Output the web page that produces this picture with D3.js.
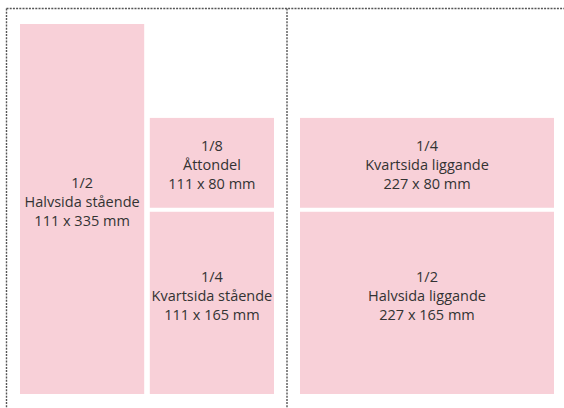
<!DOCTYPE html>
<html>
<head>
<meta charset="utf-8">
<script src="https://cdn.jsdelivr.net/npm/d3@7"></script>
<style>
  body { margin: 0; background: #fff; }
  .label { font-family: "Open Sans", "Liberation Sans", sans-serif; font-size: 14.5px; fill: #333; }
</style>
</head>
<body>
<div id="chart"></div>
<script>
// ad sizes (mm) with their labels
var fractions = ["1/2", "1/8", "1/4", "1/4", "1/2"];
var names = ["Halvsida stående", "Åttondel", "Kvartsida stående", "Kvartsida liggande", "Halvsida liggande"];
var widthsMm = [111, 111, 111, 227, 227];
var heightsMm = [335, 80, 165, 80, 165];

var pageWidthMm = 227;
var pageHeightMm = 335;

var svgWidth = 564;
var svgHeight = 408;

// which page / where in the page each ad sits
// page: 0 = left spread page, 1 = right; align: left or right edge; stack: 0 = bottom, 1 = above bottom
var layout = [
  { page: 0, align: "left", stack: 0 },
  { page: 0, align: "right", stack: 1 },
  { page: 0, align: "right", stack: 0 },
  { page: 1, align: "left", stack: 1 },
  { page: 1, align: "left", stack: 0 }
];

var gap = 4;

var svg = d3.select("#chart")
  .append("svg")
  .attr("width", svgWidth)
  .attr("height", svgHeight);

var xPages = [
  d3.scaleLinear().domain([0, pageWidthMm]).range([20, 274]),
  d3.scaleLinear().domain([0, pageWidthMm]).range([300, 554])
];
// measured from the bottom of the page
var yScale = d3.scaleLinear().domain([0, pageHeightMm]).range([394, 24]);
var kx = xPages[0](1) - xPages[0](0);
var ky = yScale(0) - yScale(1);

var ads = fractions.map(function(f, i) {
  var l = layout[i];
  var x = xPages[l.page];
  var w = widthsMm[i] * kx;
  var h = heightsMm[i] * ky;
  var x0 = l.align === "left" ? x(0) : x(pageWidthMm) - w;
  var bottom = yScale(0);
  if (l.stack === 1) {
    // sits on top of the ad below it on same page/align
    var below = layout.findIndex(function(o) { return o.page === l.page && o.align === l.align && o.stack === 0; });
    bottom = yScale(heightsMm[below]) - gap;
    h += 1.5;
  }
  return { fraction: f, name: names[i], dims: widthsMm[i] + " x " + heightsMm[i] + " mm",
           x: x0, y: bottom - h, w: w, h: h };
});

// dotted page frame
var frame = svg.append("g")
  .attr("fill", "none")
  .attr("stroke", "#555")
  .attr("stroke-width", 1.4)
  .attr("stroke-dasharray", "2,1.2");
var frameLeft = xPages[0](0) - 13.5;
var frameTop = yScale(pageHeightMm) - 15.5;
var frameMid = (xPages[0](pageWidthMm) + xPages[1](0)) / 2;
frame.append("line").attr("x1", frameLeft).attr("x2", svgWidth).attr("y1", frameTop).attr("y2", frameTop);
frame.append("line").attr("x1", frameLeft).attr("x2", frameLeft).attr("y1", frameTop).attr("y2", svgHeight);
frame.append("line").attr("x1", frameMid).attr("x2", frameMid).attr("y1", frameTop).attr("y2", svgHeight);

svg.selectAll(".ad")
  .data(ads)
  .enter()
  .append("rect")
  .classed("ad", true)
  .attr("x", d => d.x)
  .attr("y", d => d.y)
  .attr("width", d => d.w)
  .attr("height", d => d.h)
  .attr("fill", "#f8d0d8");

var labels = svg.selectAll(".label")
  .data(ads)
  .enter()
  .append("text")
  .classed("label", true)
  .attr("text-anchor", "middle")
  .attr("transform", function(d) {
    var cy = d.y + d.h / 2 + (d.h > 120 ? -7 : 2);
    return `translate(${d.x + d.w / 2}, ${cy})`;
  });

labels.each(function(d) {
  var t = d3.select(this);
  [d.fraction, d.name, d.dims].forEach(function(s, j) {
    t.append("tspan")
      .attr("x", 0)
      .attr("y", (j - 1) * 19)
      .attr("dy", "0.35em")
      .text(s);
  });
});
</script>
</body>
</html>
